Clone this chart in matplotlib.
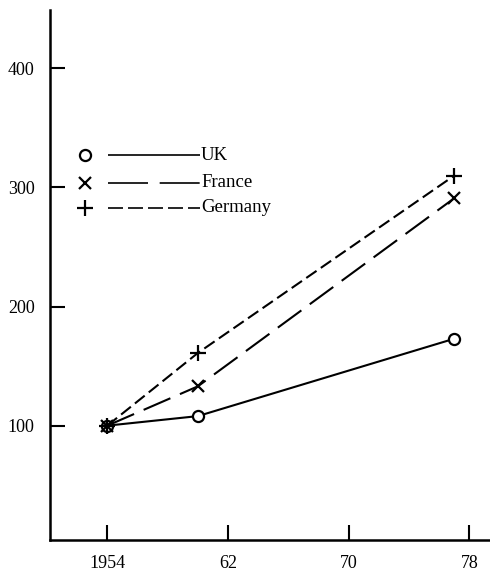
import matplotlib
matplotlib.use("Agg")
import matplotlib.pyplot as plt

years = [1954, 1960, 1977]
uk = [100, 108, 173]
france = [100, 133, 291]
germany = [100, 161, 310]

xticks = [1954, 1962, 1970, 1978]
xtick_labels = ["1954", "62", "70", "78"]
yticks = [100, 200, 300, 400]

plt.rcParams['font.family'] = ['Liberation Serif', 'DejaVu Serif']

fig = plt.figure(figsize=(4.9, 5.72), dpi=100)
ax = fig.add_axes([0.102, 0.056, 0.896, 0.9265])

# name, values, marker, data dash, key dash, marker size
series = [
    ("UK", uk, "o", (0, ()), (0, ()), 8),
    ("France", france, "x", (0, (14, 5)), (0, (24, 7)), 8),
    ("Germany", germany, "+", (0, (6, 2.5)), (0, (9, 3)), 12),
]
for name, vals, mk, ls, kls, ms in series:
    ax.plot(years, vals, color="black", lw=1.5, linestyle=ls, marker=mk,
            markersize=ms, markerfacecolor="white", markeredgecolor="black",
            markeredgewidth=1.6)

# hand-drawn style key in the upper left
key_y = [0.726, 0.674, 0.627]
for (name, vals, mk, ls, kls, ms), ky in zip(series, key_y):
    ax.plot([0.08], [ky], marker=mk, markersize=ms, color="black",
            markerfacecolor="white", markeredgewidth=1.6, transform=ax.transAxes)
    ax.plot([0.132, 0.342], [ky, ky], color="black", lw=1.2, linestyle=kls,
            transform=ax.transAxes)
    ax.text(0.344, ky, name, transform=ax.transAxes, va="center", ha="left",
            fontsize=13.5)

ax.set_xlim(1950.2, 1979.3)
ax.set_ylim(4, 449)
ax.set_xticks(xticks)
ax.set_xticklabels(xtick_labels)
ax.set_yticks(yticks)
ax.tick_params(direction="in", length=11, width=1.5, labelsize=13, pad=11)

for s in ["top", "right"]:
    ax.spines[s].set_visible(False)
for s in ["left", "bottom"]:
    ax.spines[s].set_linewidth(1.8)

fig.savefig("out.png", dpi=100)
